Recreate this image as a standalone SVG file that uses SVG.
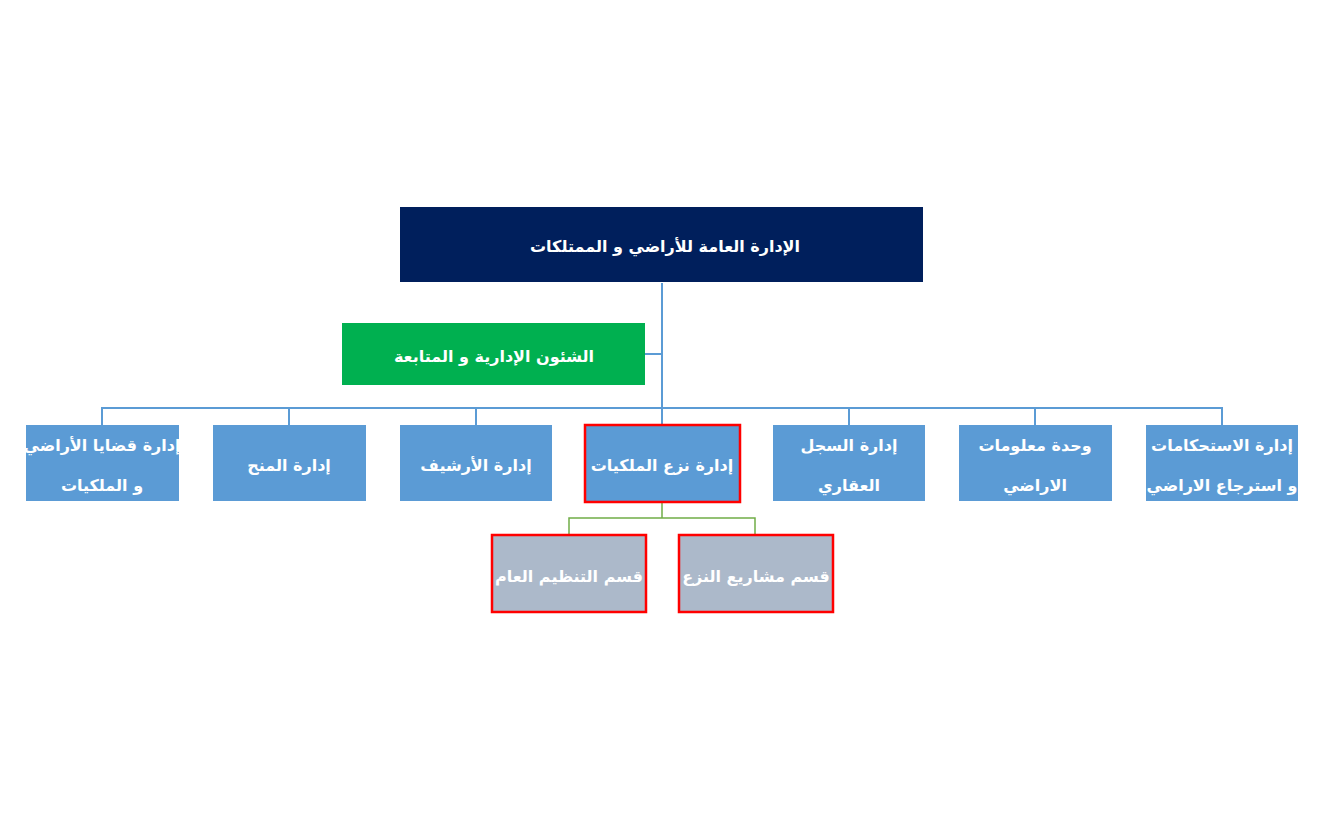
<svg xmlns="http://www.w3.org/2000/svg" width="1318" height="818" viewBox="0 0 1318 818">
<style>
.t{font-family:"DejaVu Sans","Noto Sans",sans-serif;font-weight:bold;font-size:16px;fill:#ffffff;text-anchor:middle;direction:rtl}
.blue{fill:#5B9BD5}
.sub{fill:#ACB9CA;stroke:#FF0000;stroke-width:2.5}
.sel{fill:#5B9BD5;stroke:#FF0000;stroke-width:2.5}
.cb{stroke:#5B9BD5;stroke-width:2;fill:none}
.cg{stroke:#70AD47;stroke-width:1.5;fill:none}
</style>
<rect width="1318" height="818" fill="#ffffff"/>
<g id="connectors">
<path class="cb" d="M662 283V408M645 354H662M102 425V408H1222V425M289 408V425M476 408V425M662 408V425M849 408V425M1035 408V425"/>
<path class="cg" d="M662 502V518M569 534V518H755V534"/>
</g>
<g id="root"><rect x="400" y="207" width="523" height="75" fill="#001F5C"/><text class="t" x="665" y="252">الإدارة العامة للأراضي و الممتلكات</text></g>
<g id="admin"><rect x="342" y="323" width="303" height="62" fill="#00B050"/><text class="t" x="494" y="362">الشئون الإدارية و المتابعة</text></g>
<g id="n1"><rect class="blue" x="26" y="425" width="153" height="76"/><text class="t" x="102" y="451">إدارة قضايا الأراضي</text><text class="t" x="102" y="491">و الملكيات</text></g>
<g id="n2"><rect class="blue" x="213" y="425" width="153" height="76"/><text class="t" x="289" y="471">إدارة المنح</text></g>
<g id="n3"><rect class="blue" x="400" y="425" width="152" height="76"/><text class="t" x="476" y="471">إدارة الأرشيف</text></g>
<g id="n4"><rect class="sel" x="585" y="425" width="155" height="77"/><text class="t" x="662" y="471">إدارة نزع الملكيات</text></g>
<g id="n5"><rect class="blue" x="773" y="425" width="152" height="76"/><text class="t" x="849" y="451">إدارة السجل</text><text class="t" x="849" y="491">العقاري</text></g>
<g id="n6"><rect class="blue" x="959" y="425" width="153" height="76"/><text class="t" x="1035" y="451">وحدة معلومات</text><text class="t" x="1035" y="491">الاراضي</text></g>
<g id="n7"><rect class="blue" x="1146" y="425" width="152" height="76"/><text class="t" x="1222" y="451">إدارة الاستحكامات</text><text class="t" x="1222" y="491">و استرجاع الاراضي</text></g>
<g id="s1"><rect class="sub" x="492" y="535" width="154" height="77"/><text class="t" x="569" y="582">قسم التنظيم العام</text></g>
<g id="s2"><rect class="sub" x="679" y="535" width="154" height="77"/><text class="t" x="756" y="582">قسم مشاريع النزع</text></g>
</svg>
